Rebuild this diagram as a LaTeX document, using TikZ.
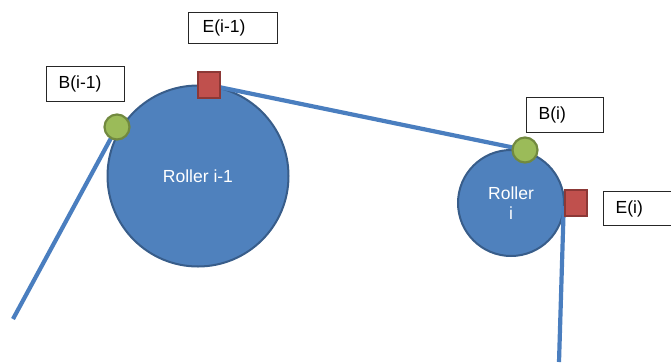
\documentclass[tikz,border=0pt]{standalone}
\usepackage{fontspec}
\setmainfont{Liberation Sans}
\pgfdeclarelayer{front}
\pgfsetlayers{main,front}
\definecolor{rollfill}{HTML}{4F81BD}
\definecolor{rolledge}{HTML}{385D8A}
\definecolor{beltcol}{HTML}{4A7EBF}
\definecolor{bfill}{HTML}{9BBB59}
\definecolor{bedge}{HTML}{71893F}
\definecolor{efill}{HTML}{C0504D}
\definecolor{eedge}{HTML}{8C3836}
\tikzset{
  roller/.style={circle, inner sep=0pt, fill=rollfill, draw=rolledge, line width=2pt,
    text=white, align=center, font=\fontsize{17.5}{21}\selectfont},
  bpoint/.style={circle, inner sep=0pt, minimum size=25pt, fill=bfill, draw=bedge, line width=2.2pt},
  epoint/.style={rectangle, inner sep=0pt, minimum width=22pt, minimum height=26pt,
    fill=efill, draw=eedge, line width=2.5pt},
  tag/.style={rectangle, draw=black!85, line width=1.4pt, anchor=north west, inner xsep=12pt,
    inner ysep=0pt, align=left, minimum height=35pt, font=\fontsize{17.5}{21}\selectfont},
  belt/.style={draw=beltcol, line width=4.2pt}
}
\begin{document}
\begin{tikzpicture}[x=1pt, y=-1pt]
  \useasboundingbox (0,0) rectangle (671,362);
  \clip (0,0) rectangle (671,362);
  % rollers
  \node[roller, minimum size=181pt] (r1) at (198,176) {Roller i-1};
  \node[roller, minimum size=106pt] (r2) at (511,203) {Roller\\[-1pt]i};
  % contact markers
  \begin{pgfonlayer}{front}
    \node[bpoint] (b1) at (117,127) {};
    \node[epoint] (e1) at (209,85) {};
    \node[bpoint] (b2) at (525,150) {};
    \node[epoint] (e2) at (576,203) {};
  \end{pgfonlayer}
  % belt
  \coordinate (tail1) at (13,319);
  \coordinate (tail2) at (559,362);
  \draw[belt] (tail1) -- (b1.center);
  \draw[belt] (e1.center) -- (b2.center);
  \draw[belt] ([yshift=-3pt]e2.west) -- (tail2);
  % labels
  \node[tag, text width=54pt] (lb1) at (46,66) {B(i-1)};
  \node[tag, minimum height=31pt, inner xsep=14pt, text width=61pt] (le1) at (188,12) {E(i-1)};
  \node[tag, text width=53pt] (lb2) at (526,97) {B(i)};
  \node[tag, minimum height=34pt, text width=56pt] (le2) at (603,191) {E(i)};
\end{tikzpicture}
\end{document}
